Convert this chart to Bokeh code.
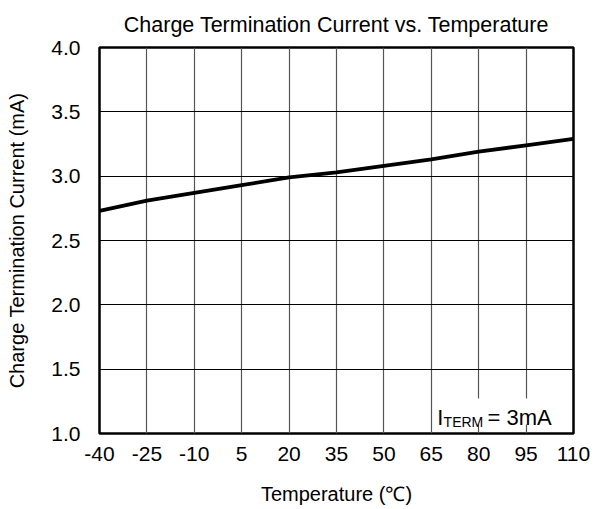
from bokeh.plotting import figure
from bokeh.models import FixedTicker, NumeralTickFormatter, PrintfTickFormatter, Range1d, Label, BoxAnnotation
from bokeh.embed import file_html
from bokeh.resources import INLINE

temps = [-40, -25, -10, 5, 20, 35, 50, 65, 80, 95, 110]
current_ma = [2.73, 2.81, 2.87, 2.93, 2.99, 3.03, 3.08, 3.13, 3.19, 3.24, 3.29]
x_ticks = [-40, -25, -10, 5, 20, 35, 50, 65, 80, 95, 110]
y_ticks = [1.0, 1.5, 2.0, 2.5, 3.0, 3.5, 4.0]

FONT = "Liberation Sans"

p = figure(width=600, height=509, output_backend="svg", toolbar_location=None,
           x_range=Range1d(-40, 110), y_range=Range1d(1.0, 4.0),
           min_border_left=99, min_border_right=27, min_border_top=47, min_border_bottom=76,
           title="Charge Termination Current vs. Temperature")

p.title.align = "center"
p.title.text_font = FONT
p.title.text_font_size = "21.5px"
p.title.text_font_style = "normal"
p.title.text_color = "black"
p.title.standoff = 21

p.outline_line_color = "black"
p.outline_line_width = 2.5
p.outline_line_alpha = 1

p.xaxis.ticker = FixedTicker(ticks=x_ticks)
p.yaxis.ticker = FixedTicker(ticks=y_ticks)
p.xaxis.formatter = PrintfTickFormatter(format="%d")
p.yaxis.formatter = NumeralTickFormatter(format="0.0")

for ax in (p.xaxis, p.yaxis):
    ax.axis_line_color = None
    ax.major_tick_line_color = None
    ax.minor_tick_line_color = None
    ax.major_tick_out = 0
    ax.major_tick_in = 0
    ax.major_label_text_font = FONT
    ax.major_label_text_font_size = "21px"
    ax.major_label_text_color = "black"
    ax.axis_label_text_font = FONT
    ax.axis_label_text_font_size = "20px"
    ax.axis_label_text_font_style = "normal"
    ax.axis_label_text_color = "black"

p.xaxis.axis_label = "Temperature (℃)"
p.yaxis.axis_label = "Charge Termination Current (mA)"
p.xaxis.major_label_standoff = 13
p.yaxis.major_label_standoff = 19
p.xaxis.axis_label_standoff = 19
p.yaxis.axis_label_standoff = 20

p.xgrid.grid_line_color = "#555555"
p.xgrid.grid_line_width = 1.2
p.ygrid.grid_line_color = "black"
p.ygrid.grid_line_width = 1

p.line(temps, current_ma, line_color="black", line_width=3.8)

box = BoxAnnotation(left=66.0, right=108.0, bottom=1.07, top=1.272,
                    fill_color="white", fill_alpha=1, line_color=None, level="overlay")
p.add_layout(box)

p.add_layout(Label(x=66.9, y=1.124, text="I", text_font=FONT, text_font_size="22px",
                   text_baseline="alphabetic", text_color="black", level="overlay"))
p.add_layout(Label(x=68.9, y=1.088, text="TERM", text_font=FONT, text_font_size="14px",
                   text_baseline="alphabetic", text_color="black", level="overlay"))
p.add_layout(Label(x=82.8, y=1.124, text="= 3mA", text_font=FONT, text_font_size="22px",
                   text_baseline="alphabetic", text_color="black", level="overlay"))

open("out.html", "w").write(file_html(p, INLINE))
